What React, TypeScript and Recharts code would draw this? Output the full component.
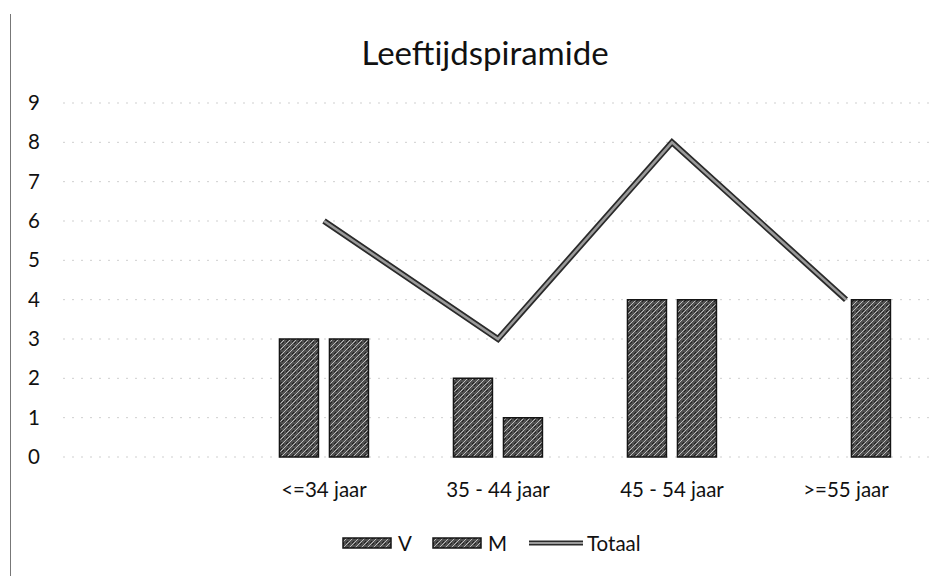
import React from "react";
import { ComposedChart, Bar, Line, XAxis, YAxis, CartesianGrid } from "recharts";

const categories = ["", "<=34 jaar", "35 - 44 jaar", "45 - 54 jaar", ">=55 jaar"];
const seriesV = [null, 3, 2, 4, 0];
const seriesM = [null, 3, 1, 4, 4];
const seriesTotaal = [null, 6, 3, 8, 4];
const yTicks = [0, 1, 2, 3, 4, 5, 6, 7, 8, 9];
const legendItems = [
  { name: "V", type: "bar" },
  { name: "M", type: "bar" },
  { name: "Totaal", type: "line" },
];
const legendLeft = [342, 432, 527];

const data = categories.map((c, i) => ({
  cat: c,
  V: seriesV[i],
  M: seriesM[i],
  Totaal: seriesTotaal[i],
}));

const FONT = "Lato, 'Noto Sans', sans-serif";
const FS = 20.5;

const YTick = (props: any) => (
  <text x={28} y={props.y} dy={7} textAnchor="start" fontSize={FS} fontFamily={FONT} fill="#111">
    {props.payload.value}
  </text>
);

const XTick = (props: any) => (
  <text x={props.x} y={props.y + 40} textAnchor="middle" fontSize={FS} fontFamily={FONT} fill="#111">
    {props.payload.value}
  </text>
);

const Pattern = ({ id }: { id: string }) => (
  <pattern id={id} width="6" height="6" patternUnits="userSpaceOnUse">
    <rect width="6" height="6" fill="#505050" />
    <path d="M0,6 L6,0" stroke="#bdbdbd" strokeWidth="1" />
    <path d="M0,2 L2,0 M4,6 L6,4" stroke="#222" strokeWidth="1" />
  </pattern>
);

export default function App() {
  return (
    <div style={{ position: "absolute", left: 0, top: 0, width: 947, height: 576, background: "#fff", fontFamily: FONT }}>
      <div style={{ position: "absolute", left: 10, top: 14, width: 1, height: 562, background: "#777" }} />
      <div
        style={{
          position: "absolute",
          left: 0,
          width: 970,
          top: 32,
          textAlign: "center",
          fontSize: 33,
          lineHeight: "40px",
          color: "#111",
        }}
      >
        Leeftijdspiramide
      </div>
      <ComposedChart
        width={947}
        height={576}
        data={data}
        margin={{ top: 103, right: 14, bottom: 0, left: 0 }}
        barCategoryGap="24.4%"
        barGap={11}
      >
        <defs>
          <Pattern id="texV" />
          <Pattern id="texM" />
        </defs>
        <CartesianGrid vertical={false} stroke="#cfcfcf" strokeDasharray="2 7" />
        <XAxis dataKey="cat" axisLine={false} tickLine={false} tickSize={0} tickMargin={0} height={119} tick={<XTick />} interval={0} />
        <YAxis
          domain={[0, 9]}
          ticks={yTicks}
          width={63}
          axisLine={false}
          tickLine={false}
          tickSize={0}
          tickMargin={0}
          tick={<YTick />}
          interval={0}
        />
        <Bar dataKey="V" fill="url(#texV)" stroke="#151515" strokeWidth={1.5} isAnimationActive={false} />
        <Bar dataKey="M" fill="url(#texM)" stroke="#151515" strokeWidth={1.5} isAnimationActive={false} />
        <Line dataKey="Totaal" stroke="#2a2a2a" strokeWidth={6} dot={false} isAnimationActive={false} legendType="none" />
        <Line dataKey="Totaal" stroke="#9a9a9a" strokeWidth={2.5} dot={false} isAnimationActive={false} />
      </ComposedChart>
      {legendItems.map((it, i) => (
        <div
          key={it.name}
          style={{
            position: "absolute",
            left: legendLeft[i],
            top: 530,
            height: 26,
            display: "flex",
            alignItems: "center",
            fontSize: FS,
            color: "#111",
          }}
        >
          <svg width={it.type === "bar" ? 50 : 58} height={12} style={{ marginRight: it.type === "bar" ? 6 : 2 }}>
            <defs>
              <Pattern id={"lg" + it.name} />
            </defs>
            {it.type === "bar" ? (
              <rect x={1} y={1} width={48} height={10} fill={"url(#lg" + it.name + ")"} stroke="#151515" strokeWidth={1.5} />
            ) : (
              <>
                <line x1={2} y1={6} x2={56} y2={6} stroke="#2a2a2a" strokeWidth={5} />
                <line x1={2} y1={6} x2={56} y2={6} stroke="#9a9a9a" strokeWidth={2} />
              </>
            )}
          </svg>
          <span>{it.name}</span>
        </div>
      ))}
    </div>
  );
}
